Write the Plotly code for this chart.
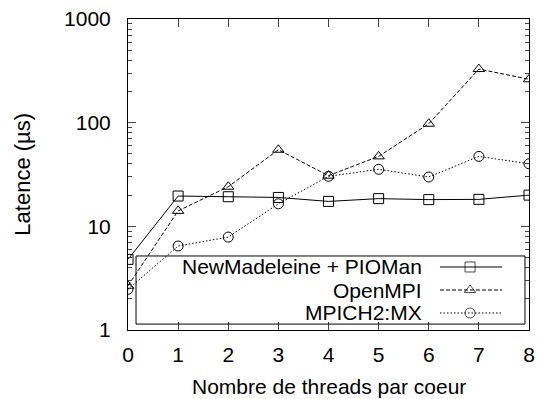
import plotly.graph_objects as go

threads = [0, 1, 2, 3, 4, 5, 6, 7, 8]
newmad = [4.8, 19.6, 19.3, 19.0, 17.4, 18.5, 18.1, 18.2, 20.0]
openmpi = [2.67, 14.1, 24.1, 54.8, 30.8, 47.3, 97.6, 329, 262]
mpich = [2.47, 6.46, 7.88, 16.5, 30.4, 35.5, 29.9, 47.3, 40.1]
names = ["NewMadeleine + PIOMan", "OpenMPI", "MPICH2:MX"]
y_ticks = [1, 10, 100, 1000]

FONT = "Liberation Sans, Arial, sans-serif"
styles = [
    dict(dash="solid", symbol="square-open", size=10),
    dict(dash="4px,2px", symbol="triangle-up-open", size=10),
    dict(dash="1.5px,2px", symbol="circle-open", size=10),
]

fig = go.Figure()
for name, vals, st in zip(names, [newmad, openmpi, mpich], styles):
    fig.add_trace(go.Scatter(
        x=threads, y=vals, mode="lines+markers", name=name, showlegend=False,
        line=dict(color="black", width=1, dash=st["dash"]),
        marker=dict(symbol=st["symbol"], size=st["size"], color="black",
                    line=dict(color="black", width=1)),
    ))

# Manual gnuplot-style legend (text right-aligned, sample on right)
row_y = [0.2026, 0.1286, 0.0547]
for name, ry, st in zip(names, row_y, styles):
    fig.add_trace(go.Scatter(
        x=[0.778, 0.853, 0.933], y=[ry, ry, ry], xaxis="x2", yaxis="y2",
        mode="lines+markers", showlegend=False, hoverinfo="skip",
        line=dict(color="black", width=1, dash=st["dash"]),
        marker=dict(symbol=st["symbol"], size=[0, st["size"], 0], color="black",
                    line=dict(color="black", width=1)),
    ))
    fig.add_annotation(x=0.736, y=ry, xref="paper", yref="paper", text=name,
                       showarrow=False, xanchor="right", yanchor="middle",
                       borderpad=0,
                       font=dict(family=FONT, size=21, color="black"))

fig.add_shape(type="rect", xref="paper", yref="paper", x0=0.02, x1=0.99,
              y0=0.019, y1=0.238, line=dict(color="black", width=1))

fig.add_annotation(x=0.5, y=-0.183, xref="paper", yref="paper",
                   text="Nombre de threads par coeur", showarrow=False,
                   xanchor="center", yanchor="middle", borderpad=0,
                   font=dict(family=FONT, size=21, color="black"))
fig.add_annotation(x=-0.264, y=0.5, xref="paper", yref="paper",
                   text="Latence (µs)", showarrow=False, textangle=-90,
                   xanchor="center", yanchor="middle",
                   font=dict(family=FONT, size=22, color="black"))

fig.update_layout(
    width=540, height=399,
    margin=dict(l=128, r=11, t=19, b=69),
    plot_bgcolor="white", paper_bgcolor="white",
    font=dict(family=FONT, size=21, color="black"),
    xaxis=dict(range=[0, 8], tickvals=threads, ticks="inside", ticklen=8,
               mirror="allticks", showline=True, linecolor="black", linewidth=1,
               showgrid=False, zeroline=False, automargin=False,
               ticklabelstandoff=6),
    yaxis=dict(type="log", range=[0, 3], tickvals=y_ticks,
               ticktext=[str(v) for v in y_ticks], ticks="inside", ticklen=8,
               mirror="allticks", showline=True, linecolor="black", linewidth=1,
               showgrid=False, zeroline=False, ticklabelstandoff=12,
               automargin=False,
               minor=dict(ticks="inside", ticklen=4, showgrid=False,
                          tickvals=[m * d for d in [1, 10, 100] for m in range(2, 10)])),
    xaxis2=dict(overlaying="x", range=[0, 1], visible=False),
    yaxis2=dict(overlaying="y", range=[0, 1], visible=False),
)

fig.write_html("out.html", config={"displayModeBar": False},
               post_script="document.body.style.margin='0';document.body.style.overflow='hidden';")
